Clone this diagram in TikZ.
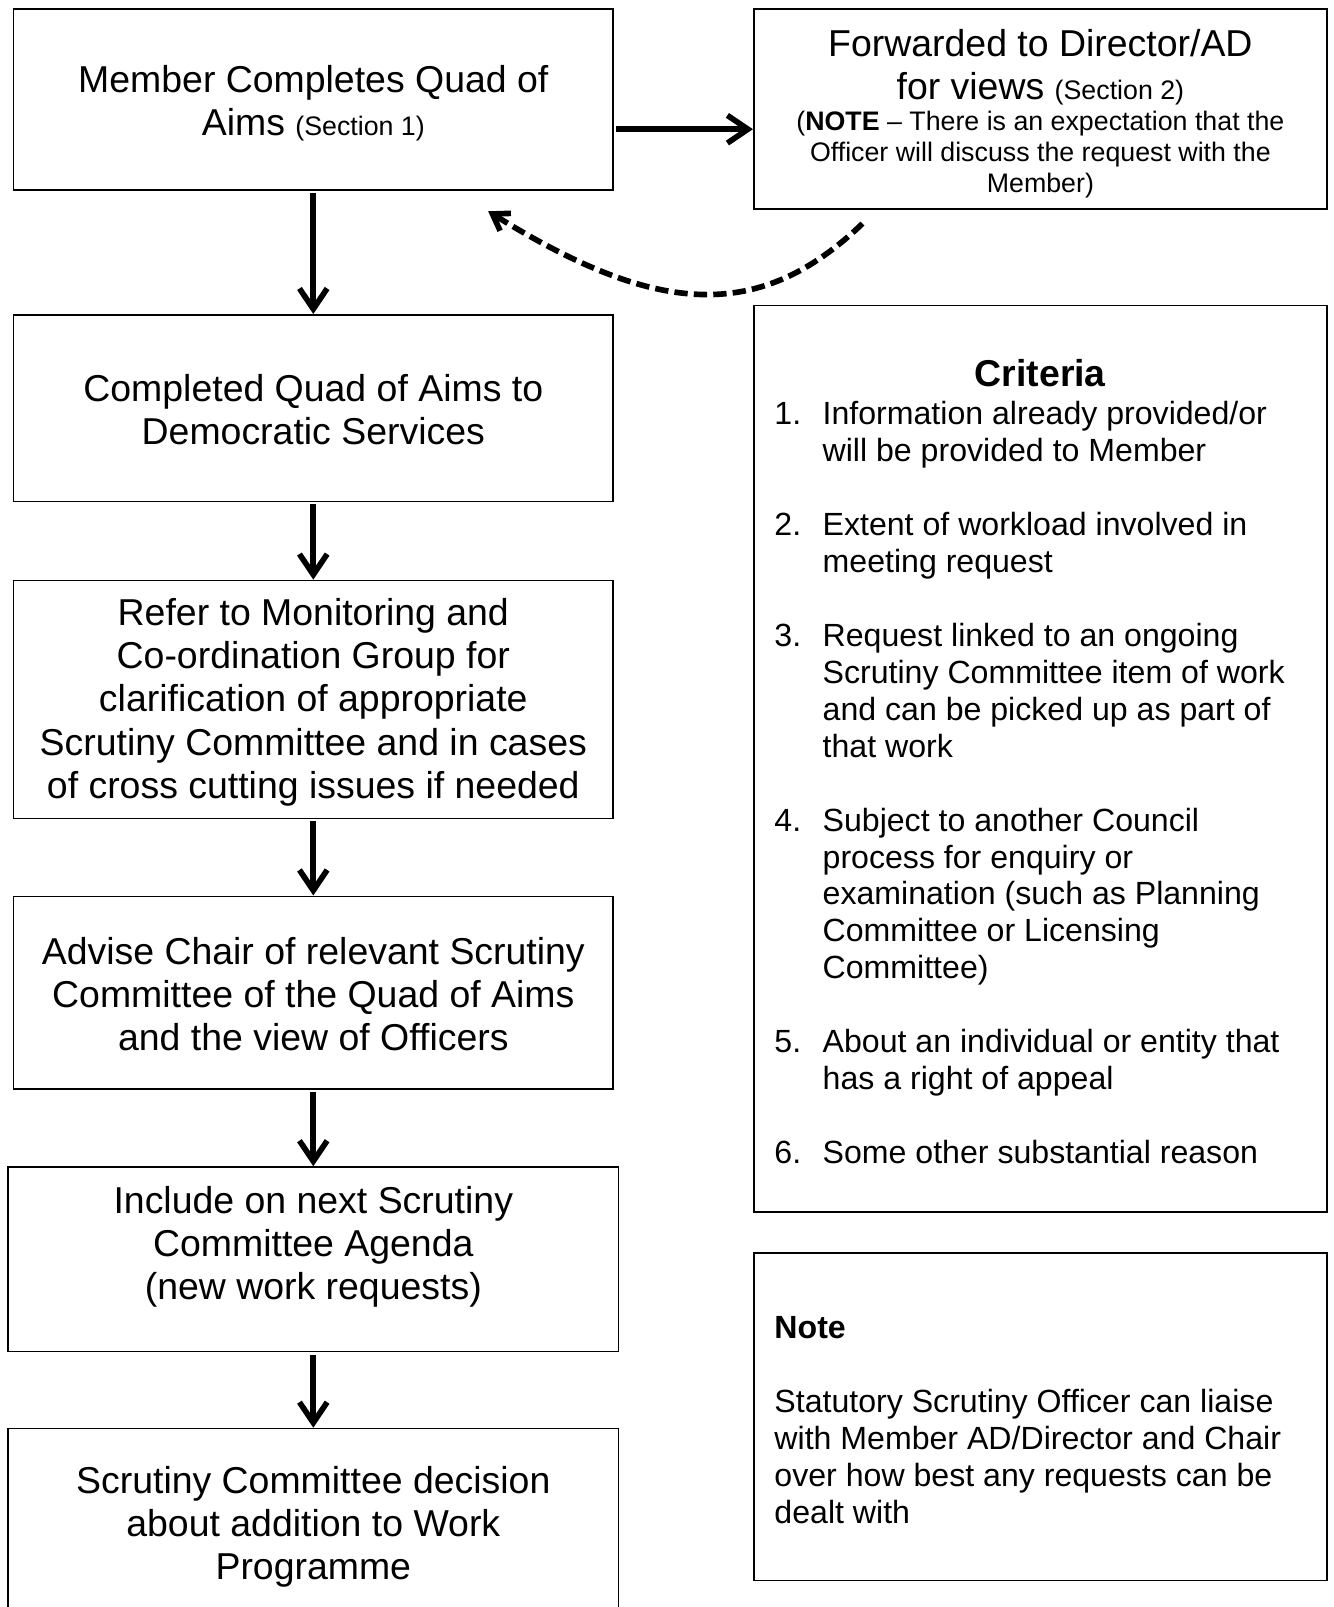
\documentclass[tikz,border=0pt]{standalone}
\usepackage{fontspec}
\setmainfont{Liberation Sans}
\usetikzlibrary{arrows.meta}
\newcommand\mainfs{\fontsize{36.5pt}{42pt}\selectfont}
\newcommand\listfs{\fontsize{31.3pt}{36pt}\selectfont}
\newcommand\smallfs{\fontsize{26.1pt}{30pt}\selectfont}
\begin{document}
\begin{tikzpicture}[x=1pt,y=-1pt,
  box/.style={draw, line width=1.6pt, inner sep=0pt, rectangle},
  txt/.style={inner sep=0pt, anchor=north},
  arr/.style={line width=5.5pt, shorten <=2pt, -{Straight Barb[length=20pt,width=27pt]}},
  darr/.style={line width=5.5pt, dash pattern=on 13pt off 6pt, -{Straight Barb[length=15pt,width=20pt]}}]
\clip (0,0) rectangle (1300,1567);
% boxes
\node[box, minimum width=585pt, minimum height=176pt] (b1) at (305.5,97) {};
\node[box, minimum width=559pt, minimum height=195pt] (b2) at (1014.5,106.5) {};
\node[box, minimum width=585pt, minimum height=182pt] (b3) at (305.5,398) {};
\node[box, minimum width=585pt, minimum height=232pt] (b4) at (305.5,682) {};
\node[box, minimum width=585pt, minimum height=188pt] (b5) at (305.5,968) {};
\node[box, minimum width=595pt, minimum height=180pt] (b6) at (305.5,1228) {};
\node[box, minimum width=595pt, minimum height=207pt] (b7) at (305.5,1496.5) {};
\node[box, minimum width=559pt, minimum height=884pt] (crit) at (1014.5,740) {};
\node[box, minimum width=559pt, minimum height=319pt] (note) at (1014.5,1381.5) {};
% texts
\node[txt] (t1) at (305.5,60.6) {\mainfs\begin{tabular}{@{}c@{}}Member Completes Quad of\\ Aims {\smallfs(Section 1)}\end{tabular}};
\node[txt] (t2a) at (1014.5,25.6) {\mainfs\begin{tabular}{@{}c@{}}Forwarded to Director/AD\\ for views {\smallfs(Section 2)}\end{tabular}};
\node[txt] (t2b) at (1014.5,106.3) {\smallfs\begin{tabular}{@{}c@{}}(\textbf{NOTE} – There is an expectation that the\\ Officer will discuss the request with the\\ Member)\end{tabular}};
\node[txt] (t3) at (305.5,361.6) {\mainfs\begin{tabular}{@{}c@{}}Completed Quad of Aims to\\ Democratic Services\end{tabular}};
\node[txt] (t4) at (305.5,580.6) {\mainfs\begin{tabular}{@{}c@{}}Refer to Monitoring and\\ Co-ordination Group for\\ clarification of appropriate\\ Scrutiny Committee and in cases\\ of cross cutting issues if needed\end{tabular}};
\node[txt] (t5) at (305.5,910.6) {\mainfs\begin{tabular}{@{}c@{}}Advise Chair of relevant Scrutiny\\ Committee of the Quad of Aims\\ and the view of Officers\end{tabular}};
\node[txt] (t6) at (305.5,1153.6) {\mainfs\begin{tabular}{@{}c@{}}Include on next Scrutiny\\ Committee Agenda\\ (new work requests)\end{tabular}};
\node[txt] (t7) at (305.5,1426.6) {\mainfs\begin{tabular}{@{}c@{}}Scrutiny Committee decision\\ about addition to Work\\ Programme\end{tabular}};
\node[inner sep=0pt, anchor=base] (ct) at (1014.5,377) {\mainfs\textbf{Criteria}};
\node[inner sep=0pt, anchor=north west] (cl) at (755,389) {\listfs\begin{tabular}{@{}l@{}l@{}}
\makebox[47pt][l]{1.} & Information already provided/or\\
 & will be provided to Member\\
 & \\
\makebox[47pt][l]{2.} & Extent of workload involved in\\
 & meeting request\\
 & \\
\makebox[47pt][l]{3.} & Request linked to an ongoing\\
 & Scrutiny Committee item of work\\
 & and can be picked up as part of\\
 & that work\\
 & \\
\makebox[47pt][l]{4.} & Subject to another Council\\
 & process for enquiry or\\
 & examination (such as Planning\\
 & Committee or Licensing\\
 & Committee)\\
 & \\
\makebox[47pt][l]{5.} & About an individual or entity that\\
 & has a right of appeal\\
 & \\
\makebox[47pt][l]{6.} & Some other substantial reason
\end{tabular}};
\node[inner sep=0pt, anchor=base west] (nt) at (755,1305) {\listfs\textbf{Note}};
\node[inner sep=0pt, anchor=north west] (nb) at (755,1352) {\listfs\begin{tabular}{@{}l@{}}Statutory Scrutiny Officer can liaise\\ with Member AD/Director and Chair\\ over how best any requests can be\\ dealt with\end{tabular}};
% connectors
\coordinate (h1) at ([yshift=-29pt]b1.east);
\draw[arr] (h1) -- (h1 -| b2.west);
\draw[arr] (b1.south) -- (b3.north);
\draw[arr] (b3.south) -- (b4.north);
\draw[arr] (b4.south) -- (b5.north);
\draw[arr] (b5.south) -- (b6.north);
\draw[arr] (b6.south) -- (b7.north);
\coordinate (d1) at (841,218);
\coordinate (d2) at (476,206);
\draw[darr] (d1) .. controls (740,315) and (640,308) .. (d2);
\end{tikzpicture}
\end{document}
